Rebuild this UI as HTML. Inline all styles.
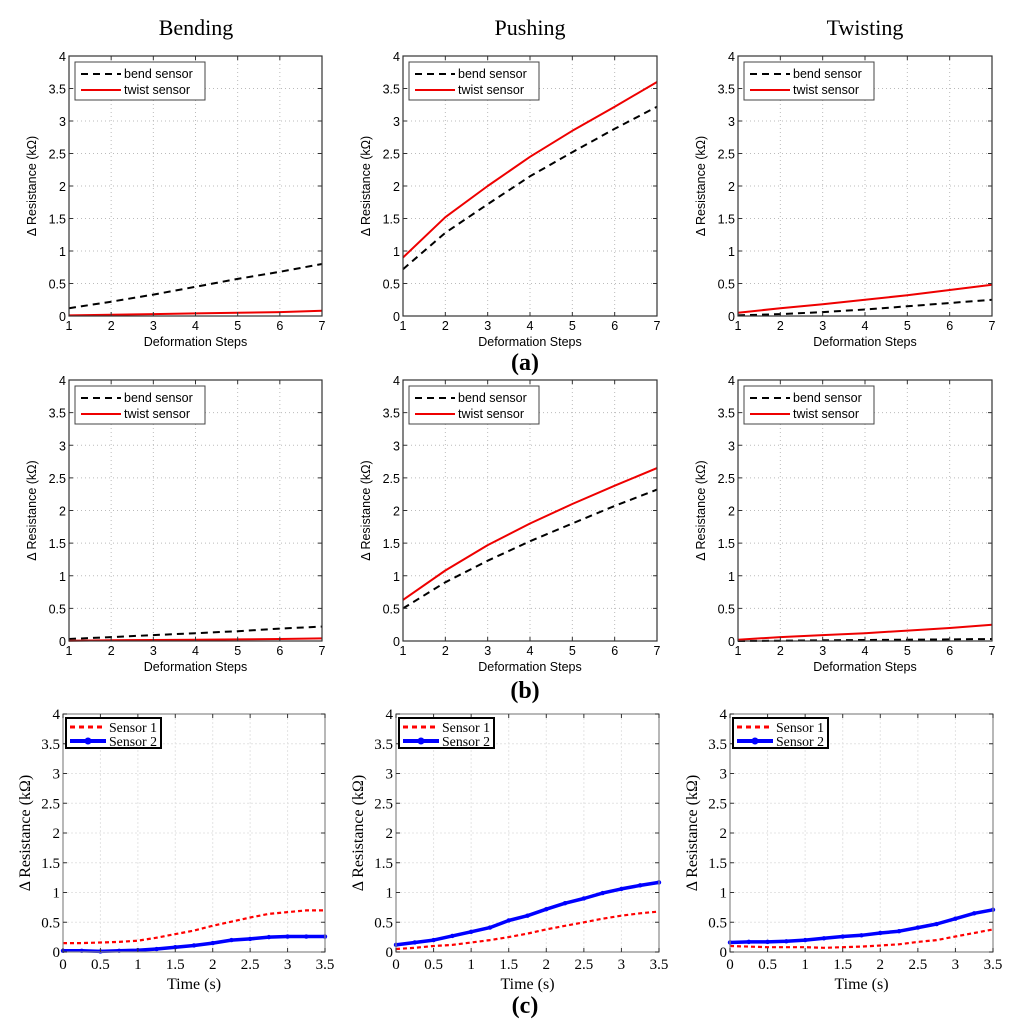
<!DOCTYPE html>
<html><head><meta charset="utf-8">
<style>
html,body{margin:0;padding:0;background:#fff;}
svg{display:block;}
.sans{font-family:"Liberation Sans",sans-serif;}
.serif{font-family:"Liberation Serif",serif;}
</style></head>
<body>
<svg id="fig" width="1024" height="1031" viewBox="0 0 1024 1031" xmlns="http://www.w3.org/2000/svg">
<text class="serif" x="196" y="35" font-size="22" text-anchor="middle">Bending</text>
<text class="serif" x="530" y="35" font-size="22" text-anchor="middle">Pushing</text>
<text class="serif" x="865" y="35" font-size="22" text-anchor="middle">Twisting</text>
<text class="serif" x="525" y="370" font-size="24" font-weight="bold" text-anchor="middle">(a)</text>
<text class="serif" x="525" y="698" font-size="24" font-weight="bold" text-anchor="middle">(b)</text>
<text class="serif" x="525" y="1013" font-size="24" font-weight="bold" text-anchor="middle">(c)</text>
</svg>
<script>
const steps=[1,2,3,4,5,6,7];
const yTicks=[0,0.5,1,1.5,2,2.5,3,3.5,4];
const yTickLabels=["0","0.5","1","1.5","2","2.5","3","3.5","4"];
const timeTicks=[0,0.5,1,1.5,2,2.5,3,3.5];
const timeTickLabels=["0","0.5","1","1.5","2","2.5","3","3.5"];
const times=[0,0.25,0.5,0.75,1,1.25,1.5,1.75,2,2.25,2.5,2.75,3,3.25,3.5];

const aBendBend=[0.12,0.22,0.33,0.45,0.57,0.68,0.8];
const aBendTwist=[0.01,0.02,0.03,0.04,0.05,0.06,0.08];
const aPushBend=[0.72,1.28,1.72,2.15,2.52,2.88,3.22];
const aPushTwist=[0.9,1.52,2.0,2.45,2.85,3.22,3.6];
const aTwistBend=[0.01,0.03,0.06,0.1,0.15,0.2,0.25];
const aTwistTwist=[0.05,0.12,0.18,0.25,0.32,0.4,0.48];
const bBendBend=[0.03,0.06,0.09,0.12,0.15,0.19,0.22];
const bBendTwist=[0.005,0.01,0.015,0.02,0.025,0.03,0.04];
const bPushBend=[0.5,0.9,1.23,1.53,1.8,2.07,2.32];
const bPushTwist=[0.63,1.08,1.47,1.8,2.1,2.38,2.65];
const bTwistBend=[0,0.005,0.01,0.015,0.02,0.025,0.03];
const bTwistTwist=[0.02,0.06,0.09,0.12,0.16,0.2,0.25];
const cBendS1=[0.15,0.15,0.16,0.17,0.19,0.24,0.3,0.36,0.44,0.51,0.58,0.64,0.67,0.7,0.7];
const cBendS2=[0.02,0.02,0.01,0.02,0.03,0.05,0.08,0.11,0.15,0.2,0.22,0.25,0.26,0.26,0.26];
const cPushS1=[0.05,0.07,0.1,0.12,0.16,0.2,0.25,0.31,0.38,0.44,0.5,0.56,0.61,0.65,0.68];
const cPushS2=[0.12,0.16,0.2,0.27,0.34,0.41,0.53,0.61,0.72,0.82,0.9,0.99,1.06,1.12,1.17];
const cTwistS1=[0.1,0.09,0.08,0.08,0.08,0.07,0.08,0.09,0.11,0.13,0.17,0.2,0.26,0.32,0.38];
const cTwistS2=[0.16,0.17,0.17,0.18,0.2,0.23,0.26,0.28,0.32,0.35,0.41,0.47,0.56,0.65,0.71];

const NS="http://www.w3.org/2000/svg";
const svg=document.getElementById('fig');
function mk(tag,attrs,parent,txt){const e=document.createElementNS(NS,tag);for(const k in attrs)e.setAttribute(k,attrs[k]);if(txt!==undefined)e.textContent=txt;(parent||svg).appendChild(e);return e;}

function panel(p){
  const g=mk('g',{});
  
  
  const xs=v=>p.x0+(v-p.xmin)/(p.xmax-p.xmin)*(p.x1-p.x0);
  const ys=v=>p.y1-(v/4)*(p.y1-p.y0);
  const serif=p.kind==='c';
  const cls=serif?'serif':'sans';
  const fs=serif?15:12.5;
  const grid=mk('g',{},g);
  
  
  p.xt.forEach(v=>{const x=xs(v);mk('line',{x1:x,x2:x,y1:p.y0,y2:p.y1,stroke:serif?'#e4e4e4':'#bbb','stroke-width':1,'stroke-dasharray':serif?'2,2':'1,3'},grid);});
  yTicks.forEach(v=>{const y=ys(v);mk('line',{x1:p.x0,x2:p.x1,y1:y,y2:y,stroke:serif?'#e4e4e4':'#bbb','stroke-width':1,'stroke-dasharray':serif?'2,2':'1,3'},grid);});
  p.series.forEach(s=>{
    const pts=s.vals.map((v,i)=>xs(p.xv[i]).toFixed(1)+','+ys(v).toFixed(1)).join(' ');
    const l=mk('polyline',{points:pts,fill:'none',stroke:s.color,'stroke-width':s.w,'stroke-dasharray':s.dash||'none','stroke-linejoin':'round'},g);
    
    
    if(s.marker){s.vals.forEach((v,i)=>{mk('circle',{cx:xs(p.xv[i]),cy:ys(v),r:2.2,fill:s.color},g);});}
  });
  const box=mk('rect',{x:p.x0,y:p.y0,width:p.x1-p.x0,height:p.y1-p.y0,fill:'none',stroke:serif?'#888':'#333','stroke-width':1.2},g);
  
  
  p.xt.forEach((v,i)=>{const x=xs(v);mk('line',{x1:x,x2:x,y1:p.y1,y2:p.y1-4,stroke:'#333'},g);mk('line',{x1:x,x2:x,y1:p.y0,y2:p.y0+4,stroke:'#333'},g);
    const t=mk('text',{x:x,y:p.y1+(serif?17:14),'font-size':fs,'text-anchor':'middle',class:cls},g,p.xl[i]);
    });
  yTicks.forEach((v,i)=>{const y=ys(v);mk('line',{x1:p.x0,x2:p.x0+4,y1:y,y2:y,stroke:'#333'},g);mk('line',{x1:p.x1,x2:p.x1-4,y1:y,y2:y,stroke:'#333'},g);
    const t=mk('text',{x:p.x0-3,y:y+5,'font-size':fs,'text-anchor':'end',class:cls},g,yTickLabels[i]);
    });
  const xt=mk('text',{x:(p.x0+p.x1)/2,y:p.y1+(serif?37:30),'font-size':serif?16:12.5,'text-anchor':'middle',class:cls},g,serif?'Time (s)':'Deformation Steps');
  
  const yx=p.x0-33, yy=(p.y0+p.y1)/2;
  const yt=mk('text',{x:yx,y:yy,'font-size':serif?16:12.5,'text-anchor':'middle',class:cls,transform:`rotate(-90 ${yx} ${yy})`},g,'Δ Resistance (kΩ)');
  
  const lg=mk('g',{},g);
  
  
  if(!serif){
    const lx=p.x0+6,ly=p.y0+6;
    mk('rect',{x:lx,y:ly,width:130,height:38,fill:'#fff',stroke:'#444','stroke-width':1},lg);
    mk('line',{x1:lx+6,x2:lx+46,y1:ly+12,y2:ly+12,stroke:'#000','stroke-width':2,'stroke-dasharray':'7,5'},lg);
    mk('line',{x1:lx+6,x2:lx+46,y1:ly+28,y2:ly+28,stroke:'#e00','stroke-width':2},lg);
    const e1=mk('text',{x:lx+49,y:ly+16,'font-size':12.5,class:'sans'},lg,'bend sensor');
    
    const e2=mk('text',{x:lx+49,y:ly+32,'font-size':12.5,class:'sans'},lg,'twist sensor');
    
  } else {
    const lx=p.x0+3,ly=p.y0+4;
    mk('rect',{x:lx,y:ly,width:95,height:30,fill:'#fff',stroke:'#000','stroke-width':2},lg);
    mk('line',{x1:lx+4,x2:lx+40,y1:ly+9,y2:ly+9,stroke:'#f00','stroke-width':3,'stroke-dasharray':'5,4'},lg);
    mk('line',{x1:lx+4,x2:lx+40,y1:ly+23,y2:ly+23,stroke:'#00f','stroke-width':4},lg);
    mk('circle',{cx:lx+22,cy:ly+23,r:3.5,fill:'#00f'},lg);
    const e1=mk('text',{x:lx+43,y:ly+14,'font-size':14,class:'serif',textLength:48,lengthAdjust:'spacingAndGlyphs'},lg,'Sensor 1');
    
    const e2=mk('text',{x:lx+43,y:ly+28,'font-size':14,class:'serif',textLength:48,lengthAdjust:'spacingAndGlyphs'},lg,'Sensor 2');
    
  }
}
const colsAB=[[69,322],[403,657],[738,992]];
const colsC=[[63,325],[396,659],[730,993]];
const rowsAB=[[56,316],[380,641]];
const names=['bending','pushing','twisting'];
const aData=[[aBendBend,aBendTwist],[aPushBend,aPushTwist],[aTwistBend,aTwistTwist]];
const bData=[[bBendBend,bBendTwist],[bPushBend,bPushTwist],[bTwistBend,bTwistTwist]];
const cData=[[cBendS1,cBendS2],[cPushS1,cPushS2],[cTwistS1,cTwistS2]];
[aData,bData].forEach((rd,r)=>{
  rd.forEach((d,c)=>{
    panel({name:(r?'b':'a')+'-'+names[c]+'-chart',kind:'ab',x0:colsAB[c][0],x1:colsAB[c][1],y0:rowsAB[r][0],y1:rowsAB[r][1],xmin:1,xmax:7,xt:steps,xl:steps.map(String),xv:steps,
      series:[{id:'bend-sensor-line',vals:d[0],color:'#000',w:2,dash:'7,5'},{id:'twist-sensor-line',vals:d[1],color:'#e00',w:2}]});
  });
});
cData.forEach((d,c)=>{
  panel({name:'c-'+names[c]+'-chart',kind:'c',x0:colsC[c][0],x1:colsC[c][1],y0:714,y1:952,xmin:0,xmax:3.5,xt:timeTicks,xl:timeTickLabels,xv:times,
    series:[{id:'sensor-1-line',vals:d[0],color:'#f00',w:2.2,dash:'4,3'},{id:'sensor-2-line',vals:d[1],color:'#00f',w:3.5,marker:true}]});
});
</script>
</body></html>
